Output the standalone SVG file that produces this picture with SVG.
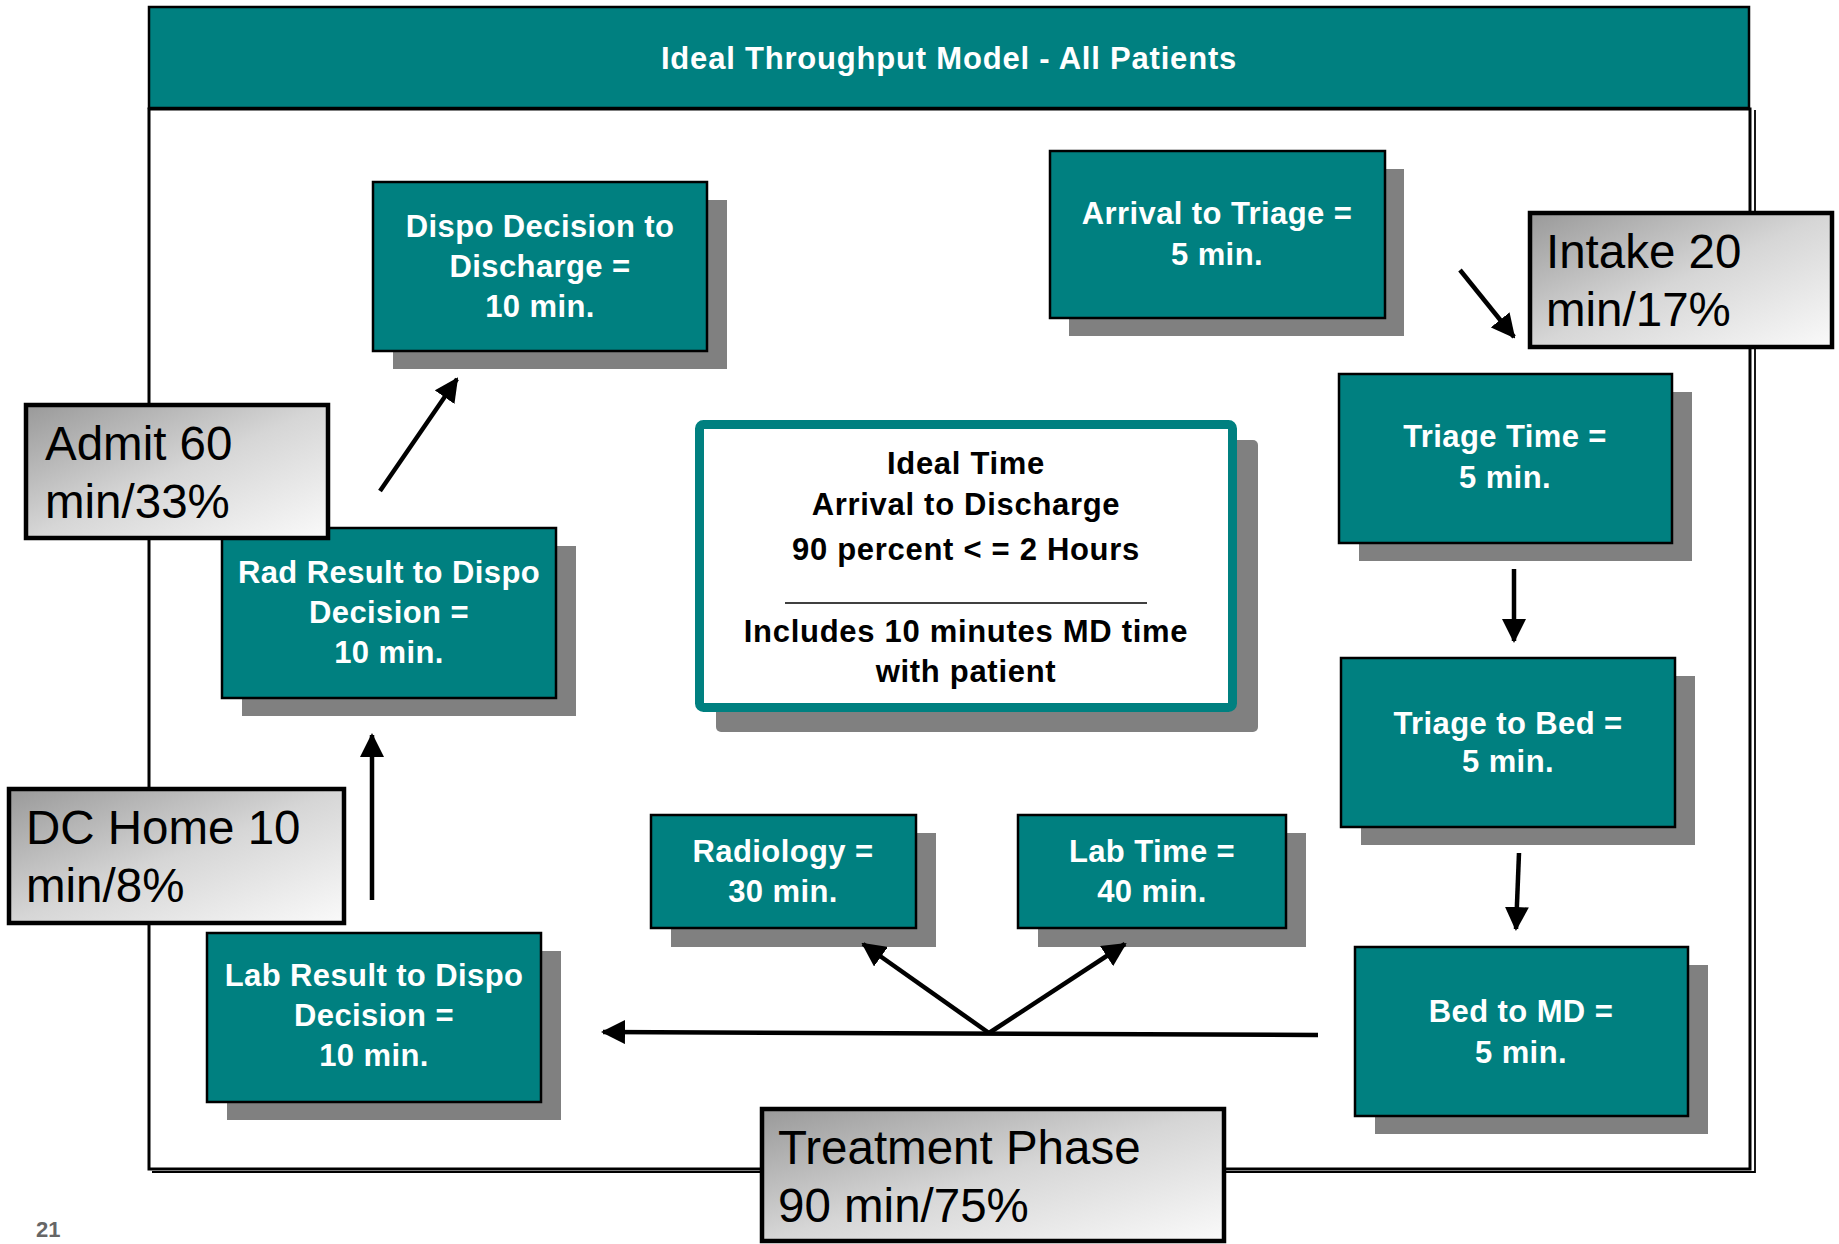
<svg xmlns="http://www.w3.org/2000/svg" width="1839" height="1244" viewBox="0 0 1839 1244">
<style>
.box{fill:#008080;stroke:#000;stroke-width:2.5}
.sh{fill:#808080}
.bt{font-family:"Liberation Sans",Arial,sans-serif;font-weight:bold;font-size:31px;fill:#fff;text-anchor:middle;letter-spacing:0.4px}
.it{font-family:"Liberation Sans",Arial,sans-serif;font-weight:bold;font-size:31px;fill:#000;text-anchor:middle;letter-spacing:0.7px}
.ct{font-family:"Liberation Sans",Arial,sans-serif;font-size:47.5px;fill:#000}
.cb{fill:url(#g);stroke:#000;stroke-width:4.5}
.ar{stroke:#000;stroke-width:4.5;fill:none;marker-end:url(#ah)}
</style>
<defs>
<linearGradient id="g" x1="0" y1="0" x2="1" y2="1">
<stop offset="0" stop-color="#999999"/>
<stop offset="0.5" stop-color="#d6d6d6"/>
<stop offset="1" stop-color="#fafafa"/>
</linearGradient>
<marker id="ah" markerUnits="userSpaceOnUse" markerWidth="24" markerHeight="24" viewBox="0 0 24 24" refX="22" refY="12" orient="auto">
<path d="M0,0 L24,12 L0,24 z" fill="#000"/>
</marker>
</defs>
<rect width="1839" height="1244" fill="#fff"/>

<g id="frame">
<polyline points="1755,110 1755,1172 152,1172" fill="none" stroke="#000" stroke-width="1.8"/>
<rect x="149" y="109" width="1601" height="1060" fill="none" stroke="#000" stroke-width="3"/>
</g>

<g id="header">
<rect x="149" y="7" width="1600" height="101" fill="#008080" stroke="#000" stroke-width="2.5"/>
<text x="949" y="69" class="bt" style="letter-spacing:0.8px">Ideal Throughput Model - All Patients</text>
</g>

<g id="dispo">
<rect class="sh" x="393" y="200" width="334" height="169"/>
<rect class="box" x="373" y="182" width="334" height="169"/>
<text class="bt" x="540" y="237">Dispo Decision to</text>
<text class="bt" x="540" y="277">Discharge =</text>
<text class="bt" x="540" y="317">10 min.</text>
</g>

<g id="arrival">
<rect class="sh" x="1069" y="169" width="335" height="167"/>
<rect class="box" x="1050" y="151" width="335" height="167"/>
<text class="bt" x="1217" y="224">Arrival to Triage =</text>
<text class="bt" x="1217" y="265">5 min.</text>
</g>

<g id="triage-time">
<rect class="sh" x="1359" y="392" width="333" height="169"/>
<rect class="box" x="1339" y="374" width="333" height="169"/>
<text class="bt" x="1505" y="447">Triage Time =</text>
<text class="bt" x="1505" y="488">5 min.</text>
</g>

<g id="triage-bed">
<rect class="sh" x="1361" y="676" width="334" height="169"/>
<rect class="box" x="1341" y="658" width="334" height="169"/>
<text class="bt" x="1508" y="734">Triage to Bed =</text>
<text class="bt" x="1508" y="772">5 min.</text>
</g>

<g id="bed-md">
<rect class="sh" x="1375" y="965" width="333" height="169"/>
<rect class="box" x="1355" y="947" width="333" height="169"/>
<text class="bt" x="1521" y="1022">Bed to MD =</text>
<text class="bt" x="1521" y="1063">5 min.</text>
</g>

<g id="lab-time">
<rect class="sh" x="1038" y="833" width="268" height="114"/>
<rect class="box" x="1018" y="815" width="268" height="113"/>
<text class="bt" x="1152" y="862">Lab Time =</text>
<text class="bt" x="1152" y="902">40 min.</text>
</g>

<g id="radiology">
<rect class="sh" x="671" y="833" width="265" height="114"/>
<rect class="box" x="651" y="815" width="265" height="113"/>
<text class="bt" x="783" y="862">Radiology =</text>
<text class="bt" x="783" y="902">30 min.</text>
</g>

<g id="lab-result">
<rect class="sh" x="227" y="951" width="334" height="169"/>
<rect class="box" x="207" y="933" width="334" height="169"/>
<text class="bt" x="374" y="986">Lab Result to Dispo</text>
<text class="bt" x="374" y="1026">Decision =</text>
<text class="bt" x="374" y="1066">10 min.</text>
</g>

<g id="rad-result">
<rect class="sh" x="242" y="546" width="334" height="170"/>
<rect class="box" x="222" y="528" width="334" height="170"/>
<text class="bt" x="389" y="583">Rad Result to Dispo</text>
<text class="bt" x="389" y="623">Decision =</text>
<text class="bt" x="389" y="663">10 min.</text>
</g>

<g id="ideal-time">
<rect class="sh" x="716" y="440" width="542" height="292" rx="5"/>
<rect x="699.5" y="424.5" width="533" height="283" rx="4" fill="#fff" stroke="#008080" stroke-width="9"/>
<text class="it" x="966" y="474">Ideal Time</text>
<text class="it" x="966" y="515">Arrival to Discharge</text>
<text class="it" x="966" y="560">90 percent &lt; = 2 Hours</text>
<line x1="785" y1="603" x2="1147" y2="603" stroke="#000" stroke-width="1.5"/>
<text class="it" x="966" y="642">Includes 10 minutes MD time</text>
<text class="it" x="966" y="682">with patient</text>
</g>

<g id="connectors">
<line class="ar" x1="1460" y1="270" x2="1514" y2="337"/>
<line class="ar" x1="1514" y1="569" x2="1514" y2="641"/>
<line class="ar" x1="1519" y1="853" x2="1516" y2="929"/>
<line class="ar" x1="1318" y1="1035" x2="603" y2="1032"/>
<line class="ar" x1="989" y1="1033" x2="863" y2="944"/>
<line class="ar" x1="989" y1="1033" x2="1125" y2="944"/>
<line class="ar" x1="372" y1="900" x2="372" y2="735"/>
<line class="ar" x1="380" y1="491" x2="457" y2="379"/>
</g>

<g id="intake">
<rect class="cb" x="1530" y="213" width="302" height="134"/>
<text class="ct" x="1546" y="268">Intake 20</text>
<text class="ct" x="1546" y="326">min/17%</text>
</g>

<g id="admit">
<rect class="cb" x="26" y="405" width="302" height="133"/>
<text class="ct" x="45" y="460">Admit 60</text>
<text class="ct" x="45" y="518">min/33%</text>
</g>

<g id="dc-home">
<rect class="cb" x="9" y="789" width="335" height="134"/>
<text class="ct" x="26" y="844">DC Home 10</text>
<text class="ct" x="26" y="902">min/8%</text>
</g>

<g id="treatment">
<rect class="cb" x="762" y="1109" width="462" height="132"/>
<text class="ct" x="778" y="1164">Treatment Phase</text>
<text class="ct" x="778" y="1222">90 min/75%</text>
</g>

<text x="36" y="1237" font-family="Liberation Sans,Arial,sans-serif" font-weight="bold" font-size="22" fill="#666">21</text>
</svg>
